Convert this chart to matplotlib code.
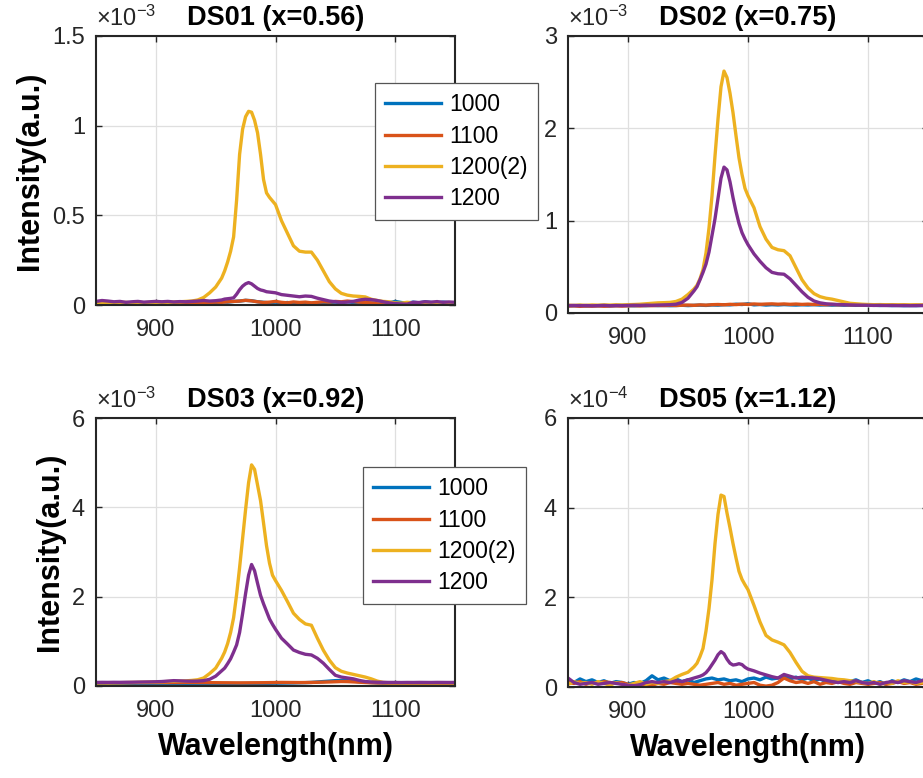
import numpy as np
import matplotlib.pyplot as plt

plt.rcParams['font.family'] = 'Liberation Sans'
plt.rcParams['mathtext.fontset'] = 'custom'
plt.rcParams['mathtext.rm'] = 'Liberation Sans'
plt.rcParams['mathtext.it'] = 'Liberation Sans:italic'

# wavelength grids (nm): 5 nm steps for the flat traces,
# 2.5 nm steps through the emission peak for the strong traces
wl = np.arange(850, 1151, 5)
wl_pk = np.concatenate([np.arange(850, 956, 5), np.arange(957.5, 1000, 2.5),
                        np.arange(1000, 1151, 5)])

series_labels = ['1000', '1100', '1200(2)', '1200']
colors = ['#0072BD', '#D95319', '#EDB120', '#7E2F8E']

# DS01, values in units of 1e-3
ds01_1000 = [0.010, 0.008, 0.012, 0.009, 0.011, 0.013, 0.010, 0.012, 0.009, 0.011,
             0.012, 0.010, 0.013, 0.011, 0.012, 0.014, 0.012, 0.013, 0.015, 0.012,
             0.014, 0.018, 0.016, 0.020, 0.022, 0.026, 0.024, 0.018, 0.015, 0.012,
             0.016, 0.010, 0.014, 0.008, 0.012, 0.006, 0.010, 0.012, 0.008, 0.014,
             0.016, 0.012, 0.018, 0.014, 0.016, 0.012, 0.010, 0.014, 0.016, 0.012,
             0.020, 0.014, 0.010, 0.016, 0.012, 0.018, 0.014, 0.012, 0.016, 0.013,
             0.012]
ds01_1100 = [0.005, 0.007, 0.006, 0.008, 0.006, 0.007, 0.005, 0.008, 0.007, 0.006,
             0.008, 0.007, 0.009, 0.008, 0.010, 0.009, 0.011, 0.010, 0.012, 0.014,
             0.016, 0.015, 0.018, 0.020, 0.022, 0.026, 0.023, 0.018, 0.014, 0.016,
             0.020, 0.015, 0.012, 0.017, 0.014, 0.016, 0.012, 0.015, 0.018, 0.016,
             0.020, 0.018, 0.022, 0.019, 0.016, 0.014, 0.012, 0.010, 0.008, 0.006,
             0.005, 0.004, 0.006, 0.005, 0.004, 0.006, 0.005, 0.004, 0.006, 0.005,
             0.004]
ds01_1200b = [0.012, 0.015, 0.012, 0.010, 0.013, 0.015, 0.012, 0.015, 0.013, 0.015,
              0.014, 0.016, 0.015, 0.017, 0.018, 0.020, 0.022, 0.028, 0.042, 0.068,
              0.100, 0.150,
              0.190, 0.240, 0.300, 0.380, 0.585, 0.840, 0.980, 1.050, 1.080,
              1.075, 1.030, 0.960, 0.840, 0.700, 0.625, 0.600, 0.580,
              0.560, 0.470, 0.400, 0.330, 0.300, 0.295, 0.295, 0.250, 0.190, 0.130,
              0.090, 0.065, 0.055, 0.050, 0.048, 0.045, 0.032, 0.025, 0.020, 0.018,
              0.012, 0.010, 0.015, 0.012, 0.010, 0.012, 0.010, 0.012, 0.010, 0.012,
              0.010]
ds01_1200 = [0.020, 0.025, 0.022, 0.018, 0.020, 0.015, 0.018, 0.020, 0.016, 0.018,
             0.020, 0.018, 0.020, 0.017, 0.019, 0.018, 0.020, 0.022, 0.025, 0.022,
             0.024, 0.028,
             0.033, 0.035, 0.037, 0.040, 0.060, 0.085, 0.105, 0.118, 0.125,
             0.118, 0.105, 0.092, 0.084, 0.080, 0.074, 0.072, 0.070,
             0.068, 0.058, 0.054, 0.050, 0.046, 0.050, 0.048, 0.038, 0.030, 0.022,
             0.018, 0.015, 0.016, 0.020, 0.028, 0.032, 0.030, 0.025, 0.018, 0.012,
             0.008, 0.006, 0.005, 0.015, 0.014, 0.018, 0.016, 0.019, 0.015, 0.017,
             0.015]

# DS02, values in units of 1e-3
ds02_1000 = [0.080, 0.078, 0.082, 0.076, 0.080, 0.079, 0.081, 0.078, 0.080, 0.082,
             0.080, 0.078, 0.081, 0.079, 0.083, 0.080, 0.082, 0.079, 0.081, 0.084,
             0.080, 0.083, 0.085, 0.082, 0.087, 0.085, 0.090, 0.088, 0.095, 0.092,
             0.100, 0.088, 0.092, 0.086, 0.090, 0.087, 0.091, 0.088, 0.086, 0.089,
             0.087, 0.090, 0.086, 0.088, 0.085, 0.087, 0.084, 0.086, 0.083, 0.085,
             0.082, 0.084, 0.081, 0.083, 0.080, 0.082, 0.079, 0.081, 0.080, 0.082,
             0.080]
ds02_1100 = [0.075, 0.078, 0.072, 0.076, 0.074, 0.077, 0.073, 0.076, 0.078, 0.075,
             0.078, 0.080, 0.077, 0.081, 0.079, 0.082, 0.080, 0.083, 0.081, 0.084,
             0.086, 0.083, 0.088, 0.085, 0.090, 0.092, 0.089, 0.094, 0.091, 0.096,
             0.093, 0.098, 0.094, 0.097, 0.099, 0.095, 0.098, 0.094, 0.097, 0.093,
             0.096, 0.092, 0.095, 0.090, 0.093, 0.089, 0.092, 0.088, 0.090, 0.087,
             0.089, 0.086, 0.088, 0.085, 0.087, 0.084, 0.086, 0.083, 0.085, 0.084,
             0.083]
ds02_1200b = [0.085, 0.082, 0.086, 0.083, 0.087, 0.085, 0.088, 0.086, 0.089, 0.087,
              0.090, 0.092, 0.095, 0.100, 0.105, 0.110, 0.112, 0.115, 0.125, 0.150,
              0.200, 0.260,
              0.300, 0.370, 0.470, 0.650, 0.920, 1.270, 1.700, 2.100, 2.450,
              2.620, 2.550, 2.380, 2.170, 1.920, 1.680, 1.500, 1.350,
              1.270, 1.140, 0.935, 0.800, 0.710, 0.685, 0.675, 0.620, 0.490, 0.360,
              0.270, 0.210, 0.177, 0.160, 0.150, 0.135, 0.120, 0.105, 0.100, 0.095,
              0.092, 0.090, 0.091, 0.089, 0.090, 0.088, 0.089, 0.087, 0.088, 0.086,
              0.085]
ds02_1200 = [0.080, 0.082, 0.079, 0.081, 0.078, 0.080, 0.082, 0.079, 0.081, 0.080,
             0.082, 0.084, 0.083, 0.085, 0.084, 0.086, 0.088, 0.090, 0.095, 0.115,
             0.160, 0.240,
             0.285, 0.360, 0.440, 0.530, 0.660, 0.840, 1.020, 1.240, 1.460,
             1.580, 1.550, 1.420, 1.250, 1.100, 0.970, 0.870, 0.800,
             0.740, 0.640, 0.560, 0.490, 0.440, 0.425, 0.420, 0.370, 0.300, 0.230,
             0.170, 0.130, 0.110, 0.100, 0.095, 0.092, 0.090, 0.088, 0.086, 0.085,
             0.084, 0.082, 0.083, 0.081, 0.082, 0.080, 0.081, 0.079, 0.080, 0.081,
             0.082]

# DS03, values in units of 1e-3
ds03_1000 = [0.060, 0.058, 0.062, 0.059, 0.061, 0.060, 0.058, 0.061, 0.059, 0.060,
             0.058, 0.060, 0.057, 0.059, 0.058, 0.056, 0.058, 0.057, 0.055, 0.056,
             0.055, 0.054, 0.056, 0.055, 0.057, 0.056, 0.058, 0.057, 0.059, 0.060,
             0.062, 0.064, 0.066, 0.068, 0.072, 0.075, 0.080, 0.090, 0.100, 0.110,
             0.120, 0.125, 0.120, 0.110, 0.095, 0.085, 0.078, 0.072, 0.068, 0.065,
             0.064, 0.062, 0.063, 0.061, 0.062, 0.060, 0.061, 0.062, 0.060, 0.061,
             0.060]
ds03_1100 = [0.070, 0.072, 0.071, 0.073, 0.072, 0.074, 0.073, 0.075, 0.074, 0.076,
             0.075, 0.077, 0.076, 0.078, 0.077, 0.079, 0.078, 0.077, 0.076, 0.075,
             0.074, 0.073, 0.072, 0.071, 0.070, 0.071, 0.072, 0.073, 0.074, 0.076,
             0.078, 0.080, 0.079, 0.078, 0.077, 0.078, 0.080, 0.083, 0.086, 0.090,
             0.095, 0.100, 0.098, 0.092, 0.085, 0.078, 0.072, 0.068, 0.066, 0.065,
             0.064, 0.065, 0.063, 0.064, 0.065, 0.063, 0.064, 0.065, 0.063, 0.064,
             0.064]
ds03_1200b = [0.070, 0.072, 0.071, 0.073, 0.075, 0.077, 0.080, 0.082, 0.085, 0.088,
              0.090, 0.095, 0.100, 0.105, 0.110, 0.115, 0.125, 0.140, 0.180, 0.280,
              0.400, 0.620,
              0.760, 0.950, 1.200, 1.530, 2.050, 2.650, 3.300, 3.950, 4.550,
              4.950, 4.850, 4.500, 4.150, 3.650, 3.140, 2.750, 2.480,
              2.360, 2.140, 1.890, 1.630, 1.490, 1.390, 1.360, 1.070, 0.800, 0.580,
              0.410, 0.330, 0.290, 0.260, 0.230, 0.200, 0.160, 0.110, 0.080, 0.072,
              0.070, 0.068, 0.070, 0.069, 0.071, 0.070, 0.069, 0.070, 0.071, 0.070,
              0.070]
ds03_1200 = [0.080, 0.082, 0.081, 0.083, 0.082, 0.084, 0.085, 0.088, 0.090, 0.092,
             0.095, 0.100, 0.110, 0.120, 0.115, 0.110, 0.108, 0.110, 0.120, 0.150,
             0.220, 0.340,
             0.400, 0.500, 0.610, 0.760, 0.920, 1.200, 1.620, 2.070, 2.480,
             2.720, 2.580, 2.300, 2.030, 1.840, 1.670, 1.500, 1.380,
             1.270, 1.070, 0.940, 0.805, 0.750, 0.710, 0.695, 0.620, 0.510, 0.370,
             0.240, 0.200, 0.180, 0.160, 0.125, 0.100, 0.090, 0.085, 0.082, 0.080,
             0.080, 0.078, 0.080, 0.079, 0.081, 0.080, 0.079, 0.081, 0.080, 0.079,
             0.080]

# DS05, values in units of 1e-4
ds05_1000 = [0.15, 0.10, 0.18, 0.12, 0.16, 0.10, 0.14, 0.08, 0.12, 0.10,
             0.06, 0.10, 0.08, 0.14, 0.25, 0.16, 0.20, 0.14, 0.18, 0.12,
             0.16, 0.10, 0.14, 0.18, 0.20, 0.16, 0.18, 0.14, 0.16, 0.12,
             0.18, 0.20, 0.16, 0.22, 0.18, 0.20, 0.24, 0.18, 0.22, 0.16,
             0.20, 0.14, 0.18, 0.12, 0.16, 0.10, 0.14, 0.12, 0.16, 0.10,
             0.14, 0.08, 0.12, 0.06, 0.14, 0.10, 0.16, 0.12, 0.18, 0.14,
             0.20]
ds05_1100 = [0.10, 0.08, 0.12, 0.06, 0.10, 0.08, 0.12, 0.10, 0.08, 0.10,
             0.06, 0.04, 0.02, 0.06, 0.04, 0.08, 0.06, 0.10, 0.08, 0.06,
             0.08, 0.06, 0.04, 0.06, 0.08, 0.10, 0.06, 0.08, 0.04, 0.06,
             0.08, 0.10, 0.04, 0.02, 0.04, 0.10, 0.20, 0.14, 0.10, 0.12,
             0.08, 0.12, 0.06, 0.10, 0.08, 0.12, 0.08, 0.06, 0.10, 0.08,
             0.06, 0.08, 0.10, 0.06, 0.08, 0.12, 0.08, 0.10, 0.06, 0.08,
             0.10]
ds05_1200b = [0.06, 0.12, 0.08, 0.10, 0.06, 0.12, 0.08, 0.04, 0.10, 0.06,
              0.04, 0.08, 0.12, 0.06, 0.10, 0.08, 0.12, 0.14, 0.22, 0.28,
              0.33, 0.45,
              0.53, 0.68, 0.86, 1.25, 1.75, 2.39, 3.20, 3.85, 4.28,
              4.25, 3.88, 3.55, 3.20, 2.88, 2.58, 2.40, 2.28,
              2.17, 1.82, 1.45, 1.15, 1.05, 1.00, 0.94, 0.77, 0.55, 0.35,
              0.25, 0.22, 0.21, 0.20, 0.19, 0.17, 0.16, 0.14, 0.12, 0.10,
              0.08, 0.12, 0.06, 0.10, 0.08, 0.14, 0.10, 0.12, 0.08, 0.10,
              0.06]
ds05_1200 = [0.20, 0.10, 0.06, 0.08, 0.10, 0.06, 0.08, 0.10, 0.08, 0.06,
             0.04, 0.03, 0.05, 0.10, 0.12, 0.10, 0.12, 0.10, 0.14, 0.12,
             0.16, 0.20,
             0.22, 0.24, 0.27, 0.32, 0.40, 0.50, 0.60, 0.72, 0.79,
             0.74, 0.62, 0.53, 0.49, 0.50, 0.52, 0.50, 0.44,
             0.40, 0.36, 0.31, 0.27, 0.23, 0.20, 0.28, 0.24, 0.20, 0.22,
             0.21, 0.20, 0.18, 0.15, 0.12, 0.10, 0.12, 0.10, 0.14, 0.10,
             0.08, 0.10, 0.06, 0.10, 0.12, 0.10, 0.14, 0.12, 0.10, 0.14,
             0.18]

titles = ['DS01 (x=0.56)', 'DS02 (x=0.75)', 'DS03 (x=0.92)', 'DS05 (x=1.12)']
exponents = [-3, -3, -3, -4]
yticks = [[0, 0.5, 1, 1.5], [0, 1, 2, 3], [0, 2, 4, 6], [0, 2, 4, 6]]
xticks = [900, 1000, 1100]
data = [[ds01_1000, ds01_1100, ds01_1200b, ds01_1200],
        [ds02_1000, ds02_1100, ds02_1200b, ds02_1200],
        [ds03_1000, ds03_1100, ds03_1200b, ds03_1200],
        [ds05_1000, ds05_1100, ds05_1200b, ds05_1200]]

W, H = 923, 778
# axes boxes in pixels: left, top, right, bottom
boxes = [(96, 36, 455, 305), (568, 36, 928, 313),
         (96, 418, 455, 686), (568, 418, 928, 687)]
legend_pos = {0: (375, 83), 2: (363, 467)}

dark = '#262626'
fig = plt.figure(figsize=(W / 100, H / 100), dpi=100)

for i in range(4):
    l, t, r, b = boxes[i]
    ax = fig.add_axes([l / W, 1 - b / H, (r - l) / W, (b - t) / H])
    for k, (s, c, lab) in enumerate(zip(data[i], colors, series_labels)):
        x = wl if k < 2 else wl_pk
        ax.plot(x, s, color=c, lw=2.4, label=lab)
    ax.set_xlim(850, 1150)
    ax.set_ylim(yticks[i][0], yticks[i][-1])
    ax.set_xticks(xticks)
    ax.set_yticks(yticks[i])
    ax.set_yticklabels(['%g' % v for v in yticks[i]])
    ax.grid(True, color='#dfdfdf', lw=0.9)
    ax.set_axisbelow(True)
    for sp in ax.spines.values():
        sp.set_linewidth(1.5)
        sp.set_color(dark)
    ax.tick_params(direction='in', length=4, width=1, top=True, right=True,
                   colors=dark, labelsize=17)
    ax.tick_params(axis='x', pad=10)
    ax.tick_params(axis='y', pad=8)
    ax.set_title(titles[i], fontweight='bold', fontsize=19.5, pad=8)
    ax.text(0.0, 1.02, r'$\times10^{%d}$' % exponents[i], transform=ax.transAxes,
            fontsize=17, color=dark, ha='left', va='bottom')
    if i % 2 == 0:
        ax.set_ylabel('Intensity(a.u.)', fontweight='bold', fontsize=22, labelpad=5)
    if i >= 2:
        ax.set_xlabel('Wavelength(nm)', fontweight='bold', fontsize=22, labelpad=7)
    if i in legend_pos:
        lx, ly = legend_pos[i]
        leg = ax.legend(loc='upper left', bbox_to_anchor=(lx / W, 1 - ly / H),
                        bbox_transform=fig.transFigure, borderaxespad=0,
                        fontsize=16.5, handlelength=2.45, handletextpad=0.35,
                        labelspacing=0.36, borderpad=0.45, fancybox=False,
                        framealpha=1, edgecolor='#555555')
        leg.get_frame().set_linewidth(0.9)

fig.savefig('out.png', dpi=100)
